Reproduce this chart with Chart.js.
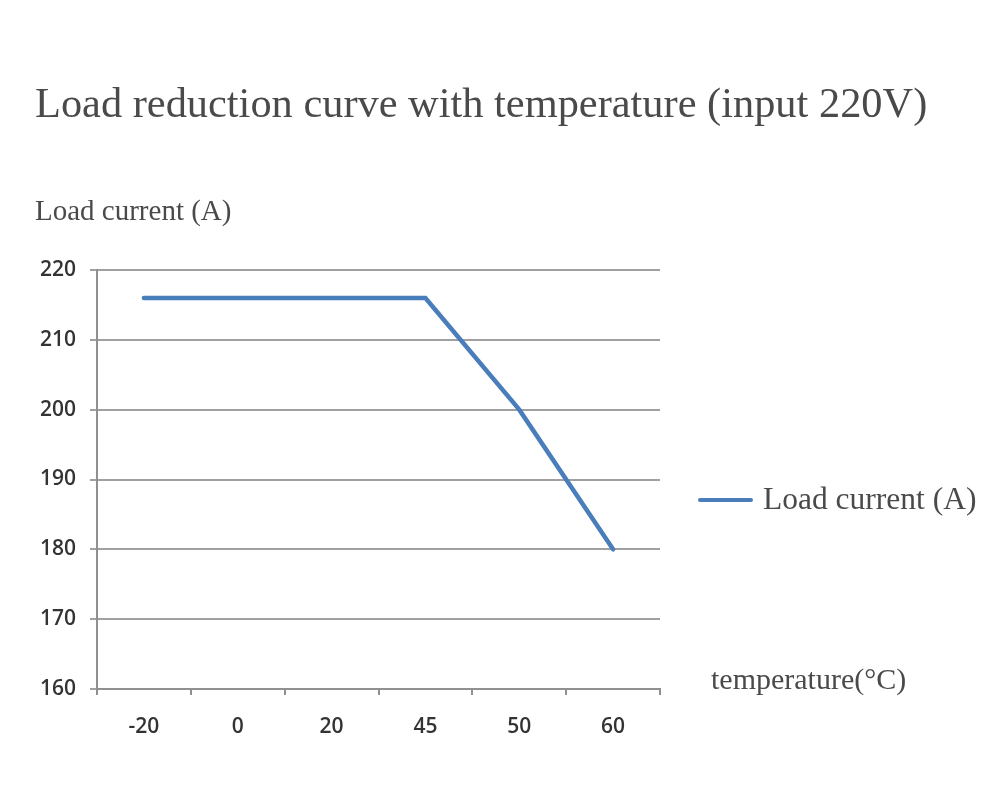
<!DOCTYPE html>
<html>
<head>
<meta charset="utf-8">
<script src="https://cdn.jsdelivr.net/npm/chart.js@4.4.1/dist/chart.umd.min.js"></script>
<style>
html,body{margin:0;padding:0;background:#fff;}
#wrap{width:1000px;height:800px;position:relative;}
</style>
</head>
<body>
<div id="wrap"><canvas id="c" width="1000" height="800"></canvas></div>
<script>
const categories = ['-20', '0', '20', '45', '50', '60'];
const loadCurrent = [216, 216, 216, 216, 200, 180];
const seriesName = 'Load current (A)';
const chartTitle = 'Load reduction curve with temperature (input 220V)';
const yAxisTitle = 'Load current (A)';
const xAxisTitle = 'temperature(°C)';
const yMin = 160, yMax = 220, yStep = 10;

const lineColor = '#4a7ebb';
const serif = '"Liberation Serif", "Times New Roman", serif';
const sans = '"Open Sans", "DejaVu Sans", sans-serif';

const textPlugin = {
  id: 'texts',
  afterDraw(chart) {
    const ctx = chart.ctx;
    ctx.save();
    ctx.fillStyle = '#4a4a4a';
    ctx.textBaseline = 'middle';
    ctx.textAlign = 'left';
    ctx.font = '42.4px ' + serif;
    ctx.fillText(chartTitle, 35, 106);
    ctx.font = '29px ' + serif;
    ctx.fillText(yAxisTitle, 35, 212);
    ctx.font = '30px ' + serif;
    ctx.fillText(xAxisTitle, 711, 681);
    // legend
    ctx.strokeStyle = lineColor;
    ctx.lineWidth = 4;
    ctx.lineCap = 'round';
    ctx.beginPath();
    ctx.moveTo(700, 500);
    ctx.lineTo(751, 500);
    ctx.stroke();
    ctx.fillStyle = '#4a4a4a';
    ctx.font = '31.5px ' + serif;
    ctx.fillText(seriesName, 763, 501);
    ctx.restore();
  }
};

new Chart(document.getElementById('c'), {
  type: 'line',
  data: {
    labels: categories,
    datasets: [{
      label: seriesName,
      data: loadCurrent,
      borderColor: lineColor,
      backgroundColor: lineColor,
      borderWidth: 4.5,
      pointRadius: 0,
      tension: 0,
      borderCapStyle: 'round'
    }]
  },
  options: {
    responsive: false,
    animation: false,
    layout: { padding: { left: 0, right: 340, top: 270, bottom: 0 } },
    plugins: {
      legend: { display: false },
      title: { display: false },
      tooltip: { enabled: false }
    },
    scales: {
      x: {
        offset: true,
        grid: { offset: true, drawOnChartArea: false, drawTicks: true, tickLength: 6, color: '#909090', lineWidth: 2 },
        border: { color: '#909090', width: 2 },
        ticks: { color: '#333333', font: { family: sans, size: 21, weight: '600' }, padding: 19 },
        afterFit(scale) { scale.height = 111; }
      },
      y: {
        min: yMin, max: yMax,
        ticks: { stepSize: yStep, color: '#333333', font: { family: sans, size: 21, weight: '600' }, padding: 14 },
        grid: { color: '#a0a0a0', lineWidth: 2, tickLength: 7 },
        border: { color: '#909090', width: 2 },
        afterFit(scale) { scale.width = 97; }
      }
    }
  },
  plugins: [textPlugin]
});
</script>
</body>
</html>
